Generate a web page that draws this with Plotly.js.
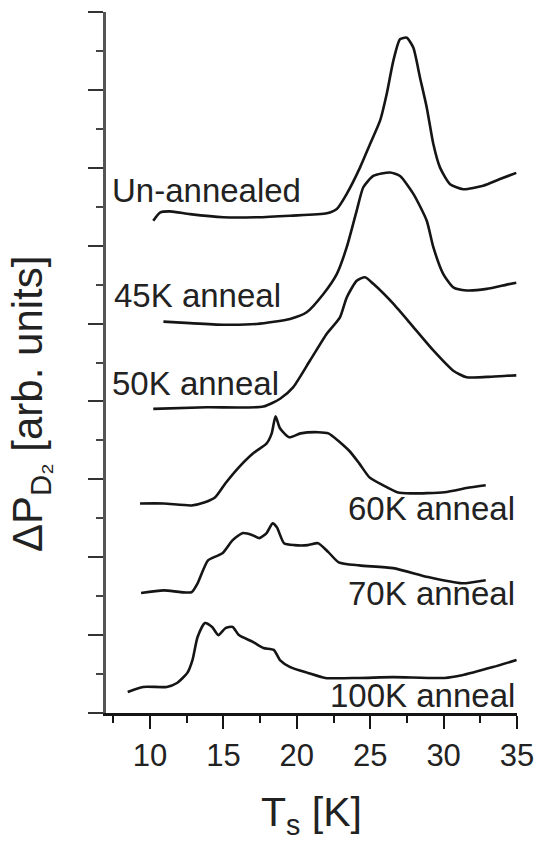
<!DOCTYPE html>
<html>
<head>
<meta charset="utf-8">
<script src="https://cdn.plot.ly/plotly-3.0.1.min.js"></script>
<style>html,body{margin:0;padding:0;background:#fff;}#chart{width:537px;height:843px;}</style>
</head>
<body>
<div id="chart"></div>
<script>
// Temperature T_s (K) and vertically offset signal (arb. units)
var unX = [10.22,10.68,11.36,12.72,14.99,17.27,19.54,22.04,22.72,23.40,24.31,24.99,25.67,26.12,26.57,27.03,27.49,27.94,28.39,28.85,29.30,29.75,30.44,31.34,32.70,33.84,34.95];
var unY = [12.64,12.85,12.88,12.81,12.73,12.73,12.77,12.83,12.94,13.33,14.01,14.61,15.21,15.89,16.74,17.30,17.34,17.08,16.32,15.55,14.61,14.01,13.58,13.45,13.54,13.71,13.87];

var a45X = [10.91,12.72,14.99,17.27,19.54,20.67,21.81,22.72,23.40,24.08,24.53,25.21,26.35,27.03,27.94,28.85,29.30,29.98,30.66,31.57,32.94,34.30,34.95];
var a45Y = [10.05,10.01,9.97,9.99,10.12,10.29,10.76,11.27,11.96,12.90,13.50,13.79,13.88,13.79,13.33,12.64,11.96,11.27,10.93,10.85,10.89,11.00,11.05];

var a50X = [10.22,13.86,17.72,18.86,19.76,20.90,22.04,22.94,23.40,24.08,24.65,25.21,26.57,27.94,29.30,30.66,31.57,32.94,34.30,34.95];
var a50Y = [7.81,7.85,7.87,8.07,8.37,9.05,9.74,10.16,10.67,11.10,11.19,11.02,10.51,9.91,9.31,8.79,8.62,8.63,8.66,8.67];

var a60X = [9.32,10.93,12.82,13.74,14.44,15.14,16.05,17.03,17.94,18.29,18.55,18.85,19.48,20.26,21.45,22.15,23.55,24.25,24.95,25.86,26.84,27.75,30.06,31.74,32.87];
var a60Y = [5.38,5.38,5.33,5.41,5.54,5.90,6.31,6.67,6.92,7.18,7.62,7.31,7.08,7.18,7.21,7.18,6.74,6.41,6.05,5.85,5.67,5.64,5.67,5.79,5.85];

var a70X = [9.39,10.93,12.82,13.24,13.95,14.93,15.63,16.33,17.03,17.45,17.94,18.35,18.64,19.13,19.83,20.75,21.45,22.15,22.85,24.25,26.56,28.94,31.25,32.87];
var a70Y = [3.08,3.15,3.10,3.33,3.92,4.10,4.44,4.62,4.56,4.49,4.62,4.87,4.77,4.36,4.31,4.31,4.36,4.13,3.87,3.79,3.72,3.49,3.33,3.41];

var a100X = [8.48,9.53,11.14,11.84,12.54,12.89,13.24,13.74,14.23,14.65,15.14,15.63,16.05,17.03,17.73,18.43,18.85,19.55,20.75,21.94,24.25,26.56,30.06,31.25,33.36,34.97];
var a100Y = [0.54,0.67,0.67,0.77,1.03,1.36,1.95,2.31,2.21,2.00,2.18,2.21,2.00,1.82,1.67,1.62,1.36,1.18,1.03,0.90,0.90,0.92,0.90,0.97,1.18,1.36];

var labels = ["Un-annealed","45K anneal","50K anneal","60K anneal","70K anneal","100K anneal"];
var labelX = [7.28,7.40,7.28,35,35,35];
var labelY = [13.41,10.72,8.46,5.26,3.08,0.44];
var labelAnchor = ["left","left","left","right","right","right"];

var xTitle = "T<sub>s</sub> [K]";
var yTitle = "ΔP<sub>D₂</sub> [arb. units]";

var series = [[unX,unY],[a45X,a45Y],[a50X,a50Y],[a60X,a60Y],[a70X,a70Y],[a100X,a100Y]];
var ink = "#151515";
var font = "'Liberation Sans', Arial, Helvetica, sans-serif";

var traces = series.map(function(s, i){
  return {x: s[0], y: s[1], type: "scatter", mode: "lines", name: labels[i],
          line: {color: ink, width: 2.6, shape: "spline", smoothing: 0.6}, hoverinfo: "skip"};
});

var annotations = labels.map(function(t, i){
  return {text: t, x: labelX[i], y: labelY[i], xref: "x", yref: "y",
          xanchor: labelAnchor[i], yanchor: "middle", showarrow: false,
          font: {family: font, size: 33, color: "#222"}};
});
annotations.push({text: yTitle, textangle: -90, xref: "paper", yref: "paper",
  x: -0.182, y: 0.441, xanchor: "center", yanchor: "middle", showarrow: false,
  font: {family: font, size: 42, color: "#222"}});

var layout = {
  width: 537, height: 843,
  margin: {l: 106, r: 20, t: 12, b: 130},
  paper_bgcolor: "#fff", plot_bgcolor: "#fff",
  showlegend: false,
  font: {family: font, color: "#222"},
  xaxis: {
    range: [7, 35], dtick: 5, tick0: 10,
    showgrid: false, zeroline: false,
    showline: true, linecolor: ink, linewidth: 3,
    ticks: "outside", ticklen: 13, tickwidth: 2, tickcolor: ink,
    minor: {dtick: 2.5, ticks: "outside", ticklen: 7, tickwidth: 2, tickcolor: ink, showgrid: false},
    tickfont: {family: font, size: 31, color: "#222"},
    title: {text: xTitle, font: {family: font, size: 41, color: "#222"}, standoff: 26}
  },
  yaxis: {
    range: [0, 18], dtick: 2, tick0: 0,
    showgrid: false, zeroline: false,
    showline: true, linecolor: "#555", linewidth: 3,
    ticks: "outside", ticklen: 15, tickwidth: 2, tickcolor: "#333",
    minor: {dtick: 1, ticks: "outside", ticklen: 7, tickwidth: 2, tickcolor: "#444", showgrid: false},
    showticklabels: false
  },
  annotations: annotations
};

Plotly.newPlot("chart", traces, layout, {staticPlot: true, displayModeBar: false});
</script>
</body>
</html>
